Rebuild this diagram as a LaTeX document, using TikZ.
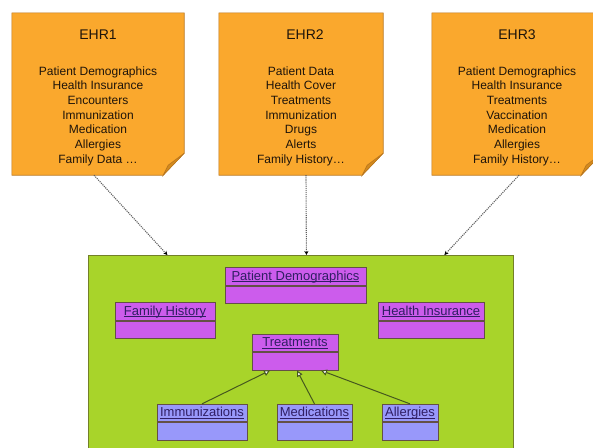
\documentclass[tikz,border=0pt]{standalone}
\usepackage{fontspec}
\setmainfont{Liberation Sans}
\usetikzlibrary{positioning,arrows.meta}

\definecolor{notefill}{RGB}{250,168,45}
\definecolor{notefold}{RGB}{212,138,28}
\definecolor{noteline}{RGB}{185,118,30}
\definecolor{notetext}{RGB}{30,20,10}
\definecolor{mergefill}{RGB}{168,212,42}
\definecolor{mergeline}{RGB}{115,128,40}
\definecolor{classpink}{RGB}{204,92,236}
\definecolor{classblue}{RGB}{152,152,250}
\definecolor{classline}{RGB}{100,80,70}
\definecolor{classtext}{RGB}{48,30,100}
\definecolor{feedline}{RGB}{95,95,95}
\definecolor{isaline}{RGB}{70,88,30}

\newcommand{\umlname}[1]{\underline{\smash{#1}}}

\tikzset{
  note/.style={minimum height=162, inner sep=0},
  notetitle/.style={font=\fontsize{14}{16}\selectfont, text=notetext},
  notelist/.style={font=\fontsize{12}{14.7}\selectfont, align=center, text=notetext},
  classhead/.style={draw=classline, line width=0.8, fill=#1, minimum height=17.5, inner sep=0,
    text height=10, text depth=3, font=\fontsize{13}{15}\selectfont, text=classtext},
  classbody/.style={draw=classline, line width=0.8, fill=#1, minimum height=17.5, inner sep=0},
  feed/.style={densely dotted, draw=feedline, line width=1.1, -{Stealth[length=4,width=4,color=black]}},
  isa/.style={draw=isaline, line width=1, -{Triangle[length=6,width=6,fill=white,color=isaline]}},
}

\begin{document}
\begin{tikzpicture}[x=1pt, y=-1pt]
    \useasboundingbox (0,0) rectangle (593,447);
    \clip (0,0) rectangle (593,447);

    % the three source records
    \node[note, minimum width=172] (ehr1) at (98,94) {};
    \node[note, minimum width=164] (ehr2) at (301,94) {};
    \node[note, minimum width=170] (ehr3) at (517,94) {};

    \foreach \n in {ehr1,ehr2,ehr3}{
        \filldraw[fill=notefill, draw=noteline, line width=0.6] (\n.north west) -- (\n.north east)
            -- ([yshift=22]\n.south east) -- ([xshift=-21]\n.south east) -- (\n.south west) -- cycle;
        \filldraw[fill=notefold, draw=noteline, line width=0.6] ([yshift=22]\n.south east)
            -- ([xshift=-16,yshift=10]\n.south east) -- ([xshift=-21]\n.south east) -- cycle;
    }

    \node[notetitle] (ehr1title) at ([yshift=-22]ehr1.north) {EHR1};
    \node[notelist] (ehr1list) at ([yshift=-22]ehr1.center) {Patient Demographics\\Health Insurance\\Encounters\\Immunization\\Medication\\Allergies\\Family Data …};

    \node[notetitle] (ehr2title) at ([xshift=4,yshift=-22]ehr2.north) {EHR2};
    \node[notelist] (ehr2list) at ([yshift=-22]ehr2.center) {Patient Data\\Health Cover\\Treatments\\Immunization\\Drugs\\Alerts\\Family History…};

    \node[notetitle] (ehr3title) at ([yshift=-22]ehr3.north) {EHR3};
    \node[notelist] (ehr3list) at ([yshift=-22]ehr3.center) {Patient Demographics\\Health Insurance\\Treatments\\Vaccination\\Medication\\Allergies\\Family History…};

    % merged model
    \node[draw=mergeline, line width=0.8, fill=mergefill, minimum width=425, minimum height=215, anchor=north west] (merged) at (88,255) {};

    \node[classhead=classpink, minimum width=141] (pd) at (295.5,276.5) {\umlname{Patient Demographics}};
    \node[classbody=classpink, minimum width=141, below=0pt of pd] (pdbody) {};

    \node[classhead=classpink, minimum width=100] (fh) at (165,311.5) {\umlname{Family History}};
    \node[classbody=classpink, minimum width=100, below=0pt of fh] (fhbody) {};

    \node[classhead=classpink, minimum width=106] (hi) at (431,311.5) {\umlname{Health Insurance}};
    \node[classbody=classpink, minimum width=106, below=0pt of hi] (hibody) {};

    \node[classhead=classpink, minimum width=86] (tr) at (295,343) {\umlname{Treatments}};
    \node[classbody=classpink, minimum width=86, below=0pt of tr] (trbody) {};

    \node[classhead=classblue, minimum width=90] (imm) at (202,413) {\umlname{Immunizations}};
    \node[classbody=classblue, minimum width=90, below=0pt of imm] (immbody) {};

    \node[classhead=classblue, minimum width=75] (med) at (314.5,413) {\umlname{Medications}};
    \node[classbody=classblue, minimum width=75, below=0pt of med] (medbody) {};

    \node[classhead=classblue, minimum width=56] (all) at (410,413) {\umlname{Allergies}};
    \node[classbody=classblue, minimum width=56, below=0pt of all] (allbody) {};

    % mappings into the merged model
    \draw[feed] ([xshift=-4]ehr1.south) -- ([xshift=-133.5]merged.north);
    \draw[feed] ([xshift=5]ehr2.south) -- ([xshift=5.5]merged.north);
    \draw[feed] ([xshift=2]ehr3.south) -- ([xshift=143.5]merged.north);

    % generalisation
    \draw[isa] (imm.north) -- ([xshift=-25]trbody.south);
    \draw[isa] (med.north) -- ([xshift=2]trbody.south);
    \draw[isa] (all.north) -- ([xshift=26]trbody.south);
\end{tikzpicture}
\end{document}
